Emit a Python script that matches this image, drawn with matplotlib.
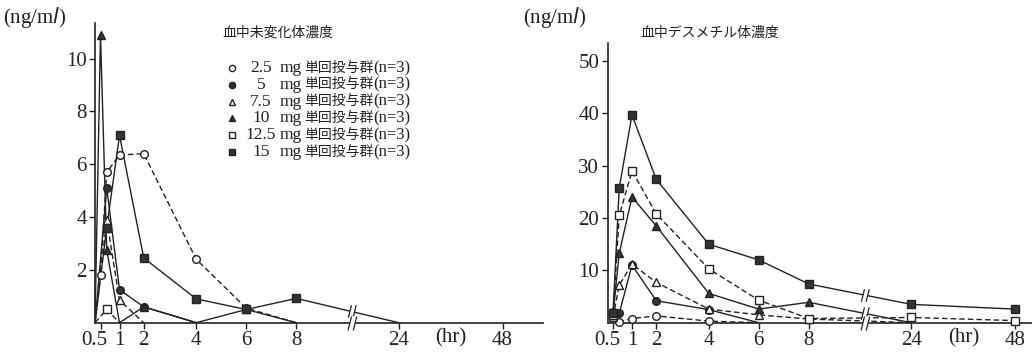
import numpy as np
import matplotlib
matplotlib.use('Agg')
import matplotlib.pyplot as plt
import matplotlib.transforms as mtrans
from matplotlib.path import Path

plt.rcParams['font.family'] = ['Liberation Serif', 'Noto Sans CJK JP']

#--------------- data -----------------------#
doses = ['2.5', '5', '7.5', '10', '12.5', '15']
markers = ['o', 'o', '^', '^', 's', 's']
filled = [False, True, False, True, False, True]

# unchanged drug (ng/ml) : time (hr), conc
unch_t = [
    [0, 0.5, 0.75, 1, 2, 4, 6, 8],
    [0, 0.75, 1, 2, 4],
    [0, 0.75, 1, 2],
    [0, 0.5, 0.75, 1, 2, 4, 6, 8],
    [0, 0.75, 1],
    [0, 0.75, 1, 2, 4, 6, 8, 24],
]
unch_c = [
    [0, 1.8, 5.7, 6.35, 6.4, 2.4, 0.55, 0],
    [0, 5.1, 1.25, 0.6, 0],
    [0, 3.9, 0.85, 0],
    [0, 10.9, 2.75, 0, 0.6, 0, 0.5, 0],
    [0, 0.5, 0],
    [0, 3.6, 7.1, 2.45, 0.9, 0.5, 0.92, 0],
]

# desmethyl metabolite (ng/ml)
dm_t = [
    [0.5, 0.75, 1, 2, 4, 6],
    [0.5, 0.75, 1, 2, 4, 6],
    [0.5, 0.75, 1, 2, 4, 6, 8, 24],
    [0.5, 0.75, 1, 2, 4, 6, 8, 24],
    [0.5, 0.75, 1, 2, 4, 6, 8, 24, 48],
    [0.5, 0.75, 1, 2, 4, 6, 8, 24, 48],
]
dm_c = [
    [1.5, 0.2, 0.8, 1.3, 0.3, 0],
    [2.0, 1.8, 11.0, 4.2, 2.5, 0],
    [1.0, 7.2, 11.2, 7.7, 2.6, 1.5, 0.7, 0],
    [1.5, 13.3, 24.0, 18.5, 5.6, 2.6, 3.9, 0],
    [1.5, 20.5, 29.0, 20.8, 10.3, 4.3, 0.8, 1.0, 0.4],
    [1.8, 25.8, 39.7, 27.4, 15.0, 12.0, 7.4, 3.5, 2.6],
]

xticks = [0.5, 1, 2, 4, 6, 8, 24, 48]
xticklabels = ['0.5', '1', '2', '4', '6', '8', '24', '48']

# broken time axis: hours -> axis position
T_KNOTS = [0, 0.5, 0.75, 1, 2, 4, 6, 8, 24, 48]
P_KNOTS = [0, 0.22, 0.47, 0.98, 1.95, 4.05, 6.05, 8.05, 12.15, 16.3]
P_BREAK = 10.25


def pos(t):
    return np.interp(t, T_KNOTS, P_KNOTS)


brk = Path([(-2.0, -4), (0.0, 4), (1.0, -4), (3.0, 4)],
           [Path.MOVETO, Path.LINETO, Path.MOVETO, Path.LINETO])
gap = Path([(-0.5, -4), (1.5, 4)], [Path.MOVETO, Path.LINETO])

#--------------- plots -----------------#
fig = plt.figure(figsize=(10.32, 3.54), dpi=100)
axL = fig.add_axes([95/1032, 1-322.7/354, 448/1032, 299.7/354])
axR = fig.add_axes([607.5/1032, 1-322.7/354, 424.5/1032, 279.4/354])


def draw(ax, ts, cs, breaks_on):
    for i in range(len(doses)):
        p = pos(ts[i])
        c = np.array(cs[i], dtype=float)
        ls = (0, (4, 2.2)) if not filled[i] else '-'
        show = [k for k in range(len(c)) if c[k] > 0]
        ax.plot(p, c, color='#222222', lw=1.0, linestyle=ls, zorder=2)
        ax.plot(p[show], c[show], linestyle='none', marker=markers[i],
                ms=5.5, mec='#222222', mew=1.0,
                mfc='#333333' if filled[i] else 'white', zorder=3,
                clip_on=False)
        if p[-1] > P_BREAK and i in breaks_on:
            yb = np.interp(P_BREAK, p, c)
            ax.plot(P_BREAK, yb, marker=gap, ms=9, mew=3.5, color='white', zorder=4)
            ax.plot(P_BREAK, yb, marker=brk, ms=9, mew=0.9, color='#222222', zorder=5)
    # break on the time axis
    ax.plot(P_BREAK, 0, marker=gap, ms=10, mew=4, color='white', zorder=6, clip_on=False)
    ax.plot(P_BREAK, 0, marker=brk, ms=10, mew=0.9, color='#222222', zorder=7, clip_on=False)


draw(axL, unch_t, unch_c, breaks_on=[5])
draw(axR, dm_t, dm_c, breaks_on=[3, 5])

axL.set_xlim(0, 17.92)
axL.set_ylim(0, 11.35)
axL.set_yticks([2, 4, 6, 8, 10])
axR.set_xlim(0, 16.98)
axR.set_ylim(0, 53.4)
axR.set_yticks([10, 20, 30, 40, 50])

for ax in (axL, axR):
    ax.set_xticks(pos(xticks))
    ax.set_xticklabels(xticklabels)
    for s in ('top', 'right'):
        ax.spines[s].set_visible(False)
    for s in ('left', 'bottom'):
        ax.spines[s].set_color('#222222')
        ax.spines[s].set_linewidth(1.2)
    ax.tick_params(direction='out', length=4, width=1, colors='#222222',
                   labelsize=15, pad=2)
    # "0.5" sits a little left of its tick
    lab = ax.get_xticklabels()[0]
    lab.set_transform(lab.get_transform() + mtrans.ScaledTranslation(-6/100, 0, fig.dpi_scale_trans))
    ax.text(14.25, -0.02, '(hr)', transform=ax.get_xaxis_transform(),
            ha='center', va='top', fontsize=15, color='#222222')

fig.text(3/1032, 1-18/354, '(ng/m$\\it{l}$)', fontsize=15, va='center', ha='left', color='#222222')
fig.text(523/1032, 1-18/354, '(ng/m$\\it{l}$)', fontsize=15, va='center', ha='left', color='#222222')

fig.text(222/1032, 1-33/354, '血中未変化体濃度', fontsize=10, va='center', ha='left', color='#222222')
fig.text(640/1032, 1-33/354, '血中デスメチル体濃度', fontsize=10, va='center', ha='left', color='#222222')

# legend rows
for i in range(len(doses)):
    yy = 1 - (68 + i*16.8)/354
    fig.lines.append(plt.Line2D([232/1032], [yy], transform=fig.transFigure,
                                marker=markers[i], ms=4.5, mew=1.0, mec='#222222',
                                mfc='#333333' if filled[i] else 'white', linestyle='none'))
    fig.text(261/1032, yy, doses[i], fontsize=12.5, ha='center', va='center', color='#222222')
    fig.text(280/1032, yy, 'mg', fontsize=12.5, ha='left', va='center', color='#222222')
    fig.text(304/1032, yy, '単回投与群', fontsize=10, ha='left', va='center', color='#222222')
    fig.text(373/1032, yy, '(n=3)', fontsize=12, ha='left', va='center', color='#222222')

fig.savefig('out.png', dpi=100)
